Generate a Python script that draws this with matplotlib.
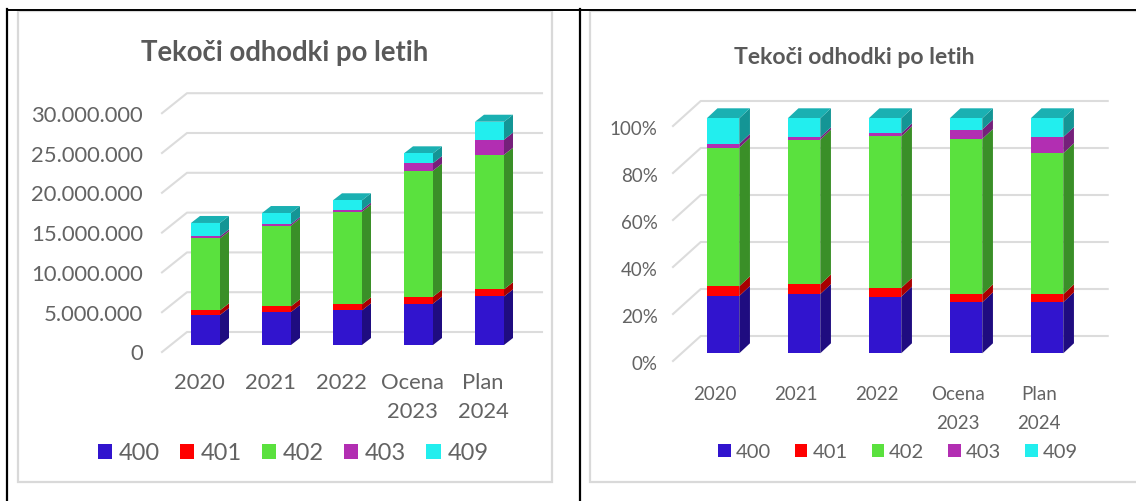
import matplotlib
matplotlib.use('Agg')
import matplotlib.pyplot as plt
from matplotlib.lines import Line2D
from matplotlib.patches import Polygon, Rectangle
from matplotlib.transforms import ScaledTranslation

W, H = 1136, 502

categories = ['2020', '2021', '2022', 'Ocena\n2023', 'Plan\n2024']
series_names = ['400', '401', '402', '403', '409']

# Left chart, amounts
amount_400 = [3770000, 4150000, 4360000, 5200000, 6100000]
amount_401 = [590000, 710000, 750000, 870000, 900000]
amount_402 = [9040000, 10140000, 11640000, 15830000, 16900000]
amount_403 = [250000, 200000, 250000, 950000, 1900000]
amount_409 = [1680000, 1380000, 1180000, 1230000, 2250000]

# Right chart, shares in percent
share_400 = [24.4, 25.2, 24.1, 21.7, 21.7]
share_401 = [4.1, 4.1, 3.7, 3.4, 3.4]
share_402 = [59.0, 61.6, 64.5, 66.1, 60.0]
share_403 = [1.6, 1.0, 1.3, 4.0, 6.9]
share_409 = [10.9, 8.1, 6.4, 4.8, 8.0]

amount_ticks = [0, 5000000, 10000000, 15000000, 20000000, 25000000, 30000000]
amount_labels = ['0', '5.000.000', '10.000.000', '15.000.000', '20.000.000', '25.000.000', '30.000.000']
share_ticks = [0, 20, 40, 60, 80, 100]
share_labels = ['0%', '20%', '40%', '60%', '80%', '100%']

front_colors = ['#3114CE', '#FF0000', '#5AE13E', '#B22EB2', '#22EEEE']
side_colors = ['#1F0C80', '#A80000', '#3A8F28', '#75207A', '#149595']
top_color = '#1AB0B2'
grid_color = '#dcdcdc'
text_color = '#636363'

LATO = ['Lato', 'DejaVu Sans']


def fx(px):
    return px / W


def fy(py):
    return 1 - py / H


def draw_chart(fig, series, ticks, labels, box, step, grid_px, depth_px, font):
    # box = left, right, top, bottom in pixels, x range is -0.5..4.5 bars
    left, right, top, bottom = box
    ax = fig.add_axes([fx(left), fy(bottom), fx(right - left), (bottom - top) / H])
    ax.patch.set_alpha(0)
    ax.set_xlim(-0.5, 4.5)
    ax.set_ylim(0, ticks[-1])
    for spine in ax.spines.values():
        spine.set_visible(False)

    per_px = ticks[-1] / (bottom - top)
    start_x = left + 0.5 * step

    # Gridlines with the slanted part on the left
    x0, x1, x2, back, front = grid_px
    for tick in ticks:
        xs = [(p - start_x) / step for p in (x0, x1, x2)]
        ys = [tick - front * per_px, tick + back * per_px, tick + back * per_px]
        ax.plot(xs, ys, color=grid_color, lw=1.5, clip_on=False, zorder=1)

    bar_w = font['bar_px'] / step
    dx = depth_px[0] / step
    dy = depth_px[1] * per_px
    x = list(range(len(categories)))
    bottoms = [0] * len(categories)
    for name, values, color, side in zip(series_names, series, front_colors, side_colors):
        ax.bar(x, values, bar_w, bottom=bottoms, color=color, label=name, zorder=3, clip_on=False)
        for i, v in enumerate(values):
            xr = i + bar_w / 2
            y0 = bottoms[i]
            y1 = y0 + v
            ax.add_patch(Polygon([(xr, y0), (xr + dx, y0 + dy), (xr + dx, y1 + dy), (xr, y1)],
                                 facecolor=side, edgecolor='none', zorder=2.5, clip_on=False))
        bottoms = [b + v for b, v in zip(bottoms, values)]
    for i, y in enumerate(bottoms):
        xl = i - bar_w / 2
        xr = i + bar_w / 2
        ax.add_patch(Polygon([(xl, y), (xr, y), (xr + dx, y + dy), (xl + dx, y + dy)],
                             facecolor=top_color, edgecolor='none', zorder=2.5, clip_on=False))

    ax.set_yticks(ticks)
    ax.set_yticklabels(labels, family=font['family'], fontsize=font['size'], color=text_color)
    ax.set_xticks(x)
    ax.set_xticklabels(categories, family=font['family'], fontsize=font['size'], color=text_color,
                       linespacing=font['linespacing'])
    ax.tick_params(axis='y', length=0, pad=font['ypad'])
    ax.tick_params(axis='x', length=0, pad=font['xpad'])
    y_shift = ScaledTranslation(0, -font['ylabel_drop'] / 100, fig.dpi_scale_trans)
    for label in ax.get_yticklabels():
        label.set_transform(label.get_transform() + y_shift)
    x_shift = ScaledTranslation(-font['xlabel_shift'] / 100, 0, fig.dpi_scale_trans)
    for label in ax.get_xticklabels():
        label.set_transform(label.get_transform() + x_shift)

    fig.text(fx(font['title_x']), fy(font['title_y']), 'Tekoči odhodki po letih', family=font['family'],
             fontsize=font['title_size'], fontweight='bold', color='#595959', ha='center', va='center')

    handles, names = ax.get_legend_handles_labels()
    ax.legend(handles, names, ncol=5, frameon=False, loc='center',
              bbox_to_anchor=(fx(font['legend_x']), fy(font['legend_y'])), bbox_transform=fig.transFigure,
              prop={'family': font['family'], 'size': font['legend_size']}, labelcolor=text_color,
              handlelength=font['handle'], handleheight=font['handle'], handletextpad=font['textpad'],
              columnspacing=font['colspace'], borderpad=0, borderaxespad=0)
    return ax


fig = plt.figure(figsize=(W / 100, H / 100), dpi=100, facecolor='white')

# Light frames round the two charts, black table lines
fig.add_artist(Rectangle((fx(18), fy(483)), fx(534), (483 - 12) / H, transform=fig.transFigure,
                         facecolor='white', edgecolor='#d9d9d9', lw=1.6, zorder=-2))
fig.add_artist(Rectangle((fx(590), fy(483)), fx(560), (483 - 12) / H, transform=fig.transFigure,
                         facecolor='white', edgecolor='#d9d9d9', lw=1.6, zorder=-2))
fig.add_artist(Line2D([fx(7), fx(7)], [fy(10), 0], color='black', lw=1.6, zorder=-1))
fig.add_artist(Line2D([fx(580), fx(580)], [fy(10), 0], color='black', lw=1.6, zorder=-1))
fig.add_artist(Line2D([fx(7), 1], [fy(10.5), fy(10.5)], color='black', lw=1.4, zorder=-1))

left_font = dict(family=LATO, size=15.8, linespacing=1.55, ypad=19.6, xpad=19.7, ylabel_drop=6.5, xlabel_shift=6.5,
                 bar_px=29, title_x=285, title_y=53, title_size=19.8, legend_x=293, legend_y=454,
                 legend_size=17, handle=0.614, textpad=0.275, colspace=0.85)
right_font = dict(family=LATO, size=13.5, linespacing=1.91, ypad=17.8, xpad=22.5, ylabel_drop=9, xlabel_shift=8,
                  bar_px=32.5, title_x=854, title_y=57, title_size=16.6, legend_x=898, legend_y=453,
                  legend_size=14.5, handle=0.62, textpad=0.25, colspace=1.19)

draw_chart(fig, [amount_400, amount_401, amount_402, amount_403, amount_409], amount_ticks, amount_labels,
           (170, 525, 107.2, 346), 71, (162, 187, 542, 13, 7), (9, 7), left_font)
draw_chart(fig, [share_400, share_401, share_402, share_403, share_409], share_ticks, share_labels,
           (682.5, 1087.5, 119.3, 354.3), 81, (673, 700.7, 1107.7, 17.3, 7.7), (10.7, 10), right_font)

fig.savefig('out.png', dpi=100)
